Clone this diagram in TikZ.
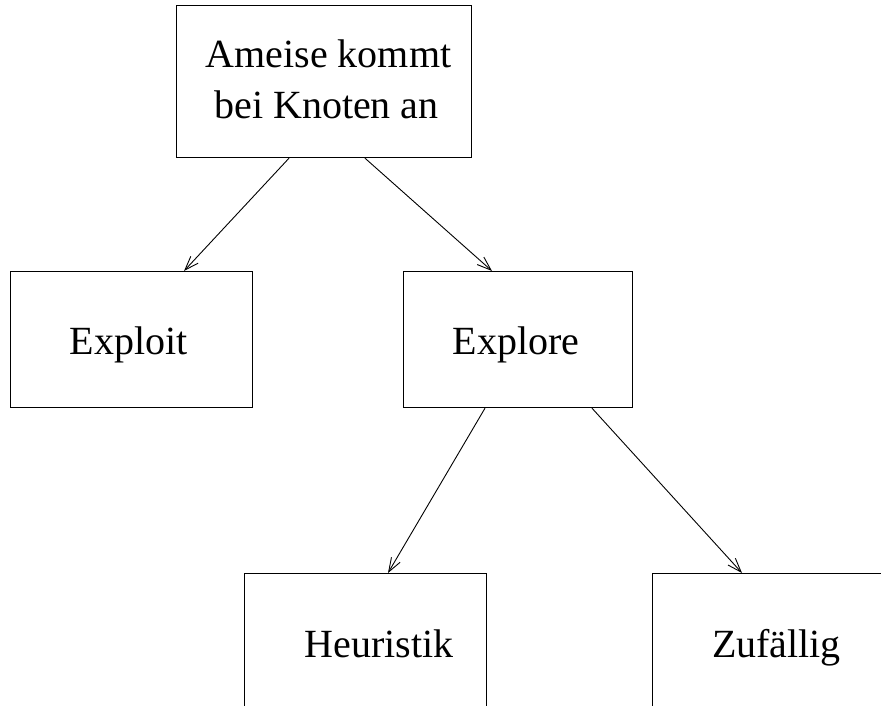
\documentclass[tikz,border=0pt]{standalone}
\usepackage{fontspec}
\setmainfont{Liberation Serif}
\usetikzlibrary{arrows.meta}
\begin{document}
\begin{tikzpicture}[x=1pt,y=1pt,
  box/.style={draw, line width=1.2pt, rectangle, inner sep=0pt, anchor=north west},
  lbl/.style={anchor=base, inner sep=0pt, font=\fontsize{40}{51}\selectfont},
  conn/.style={line width=0.9pt, -{Straight Barb[length=14pt,width=10pt,line width=0.9pt]}}]
\useasboundingbox (0,0) rectangle (881,-706);
% boxes (north west corner, width, height)
\node[box, minimum width=295pt, minimum height=152pt] (top) at (176,-5) {};
\node[box, minimum width=242pt, minimum height=136pt] (exploit) at (10,-271) {};
\node[box, minimum width=229pt, minimum height=136pt] (explore) at (403,-271) {};
\node[box, minimum width=242pt, minimum height=160pt] (heur) at (244,-573) {};
\node[box, minimum width=260pt, minimum height=160pt] (zuf) at (652,-573) {};
% labels
\node[lbl] (t1) at (328.5,-68) {Ameise kommt};
\node[lbl] (t2) at (326.5,-119) {bei Knoten an};
\node[lbl] (texploit) at (128.5,-354) {Exploit};
\node[lbl] (texplore) at (516,-354) {Explore};
\node[lbl] (theur) at (379,-657) {Heuristik};
\node[lbl] (tzuf) at (776.5,-657) {Zufällig};
% connectors
\draw[conn] ([xshift=113pt]top.south west) -- ([xshift=174pt]exploit.north west);
\draw[conn] ([xshift=189pt]top.south west) -- ([xshift=89pt]explore.north west);
\draw[conn] ([xshift=82pt]explore.south west) -- ([xshift=144pt]heur.north west);
\draw[conn] ([xshift=189pt]explore.south west) -- ([xshift=90pt]zuf.north west);
\end{tikzpicture}
\end{document}
